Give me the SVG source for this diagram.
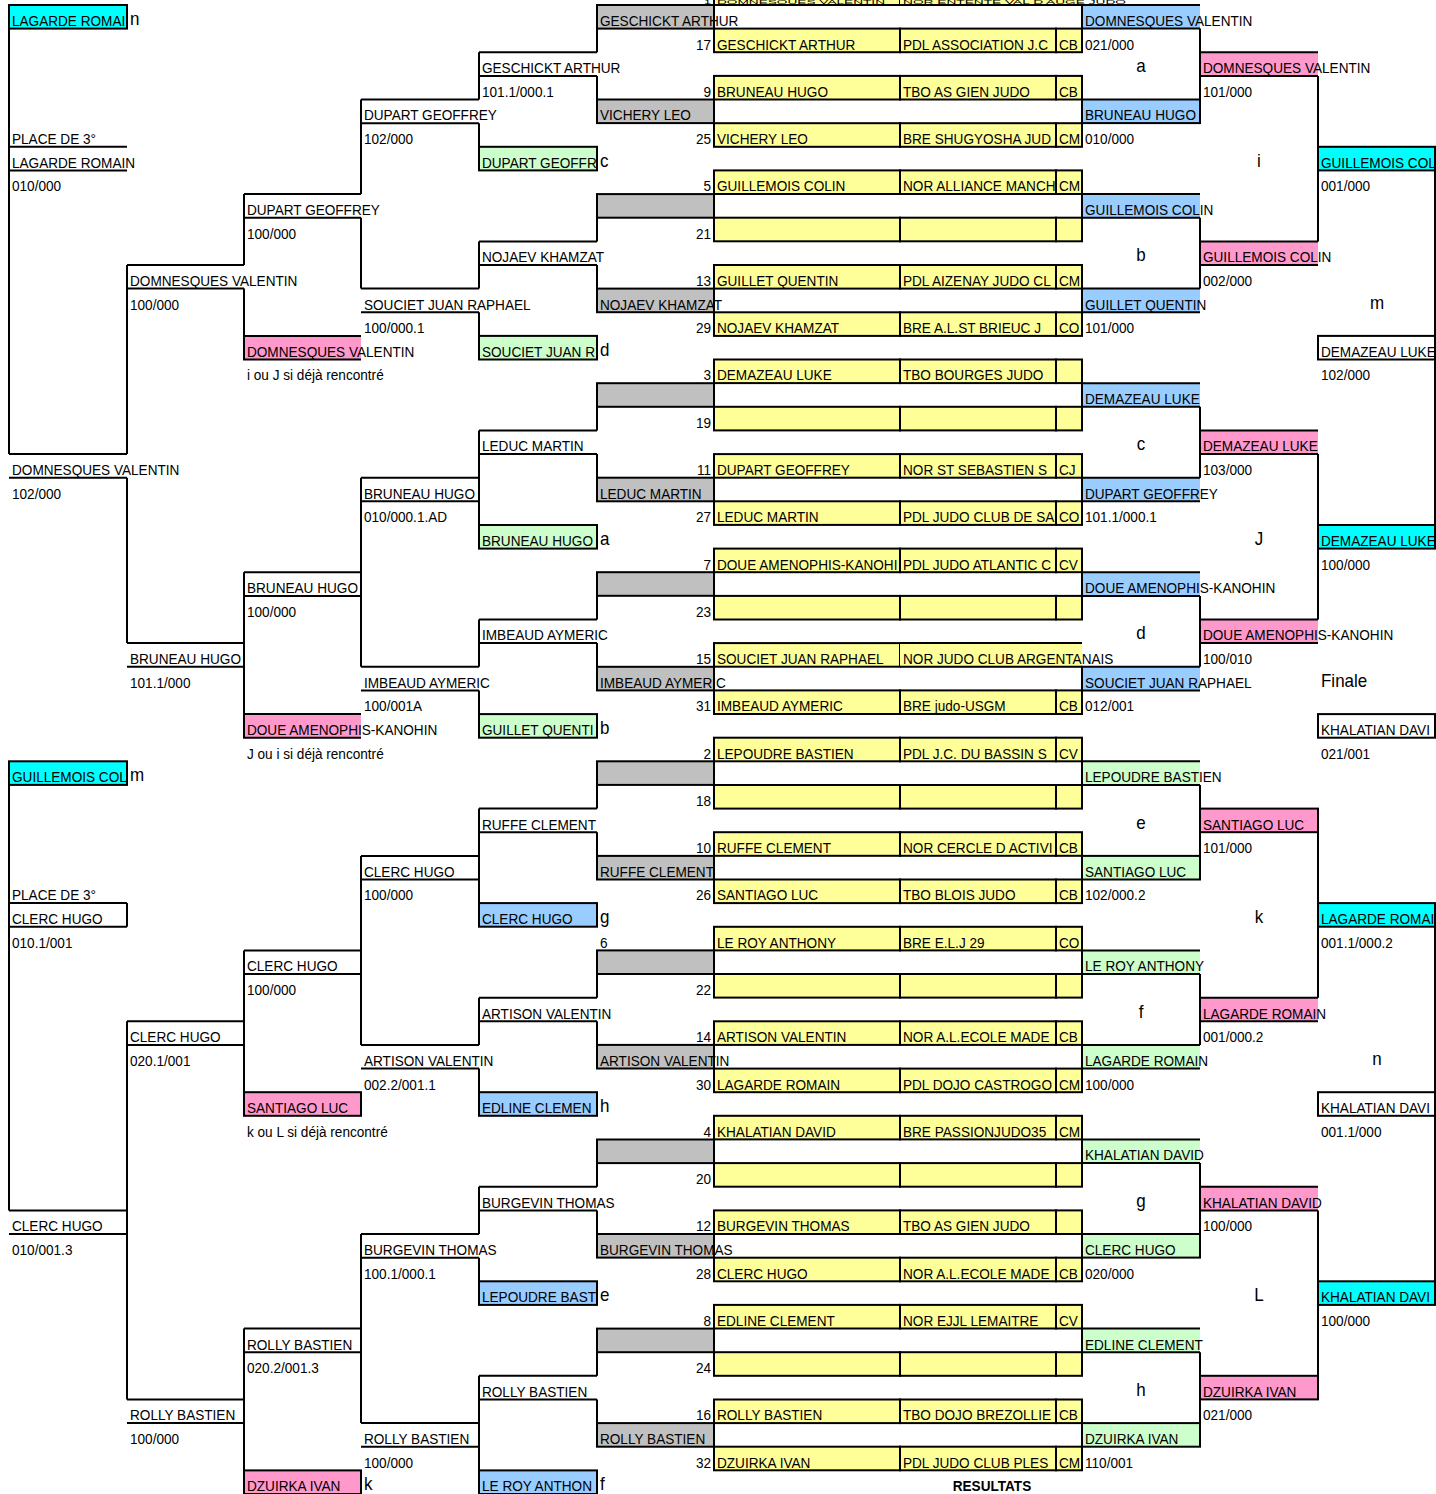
<svg xmlns="http://www.w3.org/2000/svg" xmlns:xlink="http://www.w3.org/1999/xlink" width="1436" height="1494" viewBox="0 0 1436 1494">
<style>
.t{font-family:"Liberation Sans",Arial,sans-serif;font-size:13.6px;fill:#000;transform-box:fill-box;transform-origin:0 81%;transform:scale(1,1.08)}
.L{font-family:"Liberation Sans",Arial,sans-serif;font-size:17px;fill:#000;transform-box:fill-box;transform-origin:0 81%;transform:scale(1,1.08)}
.tiny{font-family:"Liberation Sans",Arial,sans-serif;font-size:5px;fill:#000}
.bd{font-weight:bold}
.e{text-anchor:end}
.m{text-anchor:middle}
.s{stroke:#000;stroke-width:2}
.ln{fill:none;stroke:#000;stroke-width:2}
.y{fill:#ffff99}
.g{fill:#c0c0c0}
.b{fill:#99ccff}
.p{fill:#ff99cc}
.n{fill:#ccffcc}
.c{fill:#00ffff}
.w{fill:#ffffff}
</style>
<defs>
<clipPath id="cA"><rect x="10" y="0" width="116" height="1494"/></clipPath>
<clipPath id="cE"><rect x="480" y="0" width="116" height="1494"/></clipPath>
<clipPath id="cG"><rect x="715" y="0" width="184" height="1494"/></clipPath>
<clipPath id="cH"><rect x="901" y="0" width="154" height="1494"/></clipPath>
<g id="yr"><rect class="y s" x="714" y="0" width="186" height="23.6"/><rect class="y s" x="900" y="0" width="156" height="23.6"/><rect class="y s" x="1056" y="0" width="26" height="23.6"/></g>
</defs>
<rect x="0" y="0" width="1436" height="1494" fill="#ffffff"/>

<g id="slots">
<g id="slot1"><rect class="y s" x="714" y="-18.6" width="186" height="23.6"/><rect class="y" x="900" y="-18.6" width="182" height="23.6"/><path class="ln" d="M900 5H1082"/><text class="tiny e" x="711" y="4.2" textLength="7" lengthAdjust="spacingAndGlyphs">1</text><text class="tiny" x="717" y="4.2" textLength="168" lengthAdjust="spacingAndGlyphs">DOMNESQUES VALENTIN</text><text class="tiny" x="903" y="4.2" textLength="223" lengthAdjust="spacingAndGlyphs">NOR ENTENTE VAL D AUGE JUDO</text></g>
<g id="slot17"><use xlink:href="#yr" y="28.6"/><text class="t e" x="711" y="49.6">17</text><text class="t" x="717" y="49.6" clip-path="url(#cG)">GESCHICKT ARTHUR</text><text class="t" x="903" y="49.6" clip-path="url(#cH)">PDL ASSOCIATION J.C</text><text class="t" x="1059" y="49.6">CB</text></g>
<g id="slot9"><use xlink:href="#yr" y="75.9"/><text class="t e" x="711" y="96.9">9</text><text class="t" x="717" y="96.9">BRUNEAU HUGO</text><text class="t" x="903" y="96.9">TBO AS GIEN JUDO</text><text class="t" x="1059" y="96.9">CB</text></g>
<g id="slot25"><use xlink:href="#yr" y="123.2"/><text class="t e" x="711" y="144.2">25</text><text class="t" x="717" y="144.2">VICHERY LEO</text><text class="t" x="903" y="144.2" clip-path="url(#cH)">BRE SHUGYOSHA JUD</text><text class="t" x="1059" y="144.2">CM</text></g>
<g id="slot5"><use xlink:href="#yr" y="170.4"/><text class="t e" x="711" y="191.4">5</text><text class="t" x="717" y="191.4">GUILLEMOIS COLIN</text><text class="t" x="903" y="191.4" clip-path="url(#cH)">NOR ALLIANCE MANCH</text><text class="t" x="1059" y="191.4">CM</text></g>
<g id="slot21"><use xlink:href="#yr" y="217.7"/><text class="t e" x="711" y="238.7">21</text></g>
<g id="slot13"><use xlink:href="#yr" y="265"/><text class="t e" x="711" y="286">13</text><text class="t" x="717" y="286">GUILLET QUENTIN</text><text class="t" x="903" y="286" clip-path="url(#cH)">PDL AIZENAY JUDO CL</text><text class="t" x="1059" y="286">CM</text></g>
<g id="slot29"><use xlink:href="#yr" y="312.3"/><text class="t e" x="711" y="333.3">29</text><text class="t" x="717" y="333.3">NOJAEV KHAMZAT</text><text class="t" x="903" y="333.3" clip-path="url(#cH)">BRE A.L.ST BRIEUC J</text><text class="t" x="1059" y="333.3">CO</text></g>
<g id="slot3"><use xlink:href="#yr" y="359.5"/><text class="t e" x="711" y="380.5">3</text><text class="t" x="717" y="380.5">DEMAZEAU LUKE</text><text class="t" x="903" y="380.5">TBO BOURGES JUDO</text></g>
<g id="slot19"><use xlink:href="#yr" y="406.8"/><text class="t e" x="711" y="427.8">19</text></g>
<g id="slot11"><use xlink:href="#yr" y="454.1"/><text class="t e" x="711" y="475.1">11</text><text class="t" x="717" y="475.1">DUPART GEOFFREY</text><text class="t" x="903" y="475.1" clip-path="url(#cH)">NOR ST SEBASTIEN S</text><text class="t" x="1059" y="475.1">CJ</text></g>
<g id="slot27"><use xlink:href="#yr" y="501.3"/><text class="t e" x="711" y="522.3">27</text><text class="t" x="717" y="522.3">LEDUC MARTIN</text><text class="t" x="903" y="522.3" clip-path="url(#cH)">PDL JUDO CLUB DE SA</text><text class="t" x="1059" y="522.3">CO</text></g>
<g id="slot7"><use xlink:href="#yr" y="548.6"/><text class="t e" x="711" y="569.6">7</text><text class="t" x="717" y="569.6" clip-path="url(#cG)">DOUE AMENOPHIS-KANOHI</text><text class="t" x="903" y="569.6" clip-path="url(#cH)">PDL JUDO ATLANTIC C</text><text class="t" x="1059" y="569.6">CV</text></g>
<g id="slot23"><use xlink:href="#yr" y="595.9"/><text class="t e" x="711" y="616.9">23</text></g>
<g id="slot15"><rect class="y s" x="714" y="643.1" width="186" height="23.6"/><rect class="y" x="900" y="643.1" width="182" height="23.6"/><path class="ln" d="M900 643.1H1082M900 666.7H1082"/><text class="t e" x="711" y="664.1">15</text><text class="t" x="717" y="664.1">SOUCIET JUAN RAPHAEL</text><text class="t" x="903" y="664.1">NOR JUDO CLUB ARGENTANAIS</text></g>
<g id="slot31"><use xlink:href="#yr" y="690.4"/><text class="t e" x="711" y="711.4">31</text><text class="t" x="717" y="711.4">IMBEAUD AYMERIC</text><text class="t" x="903" y="711.4">BRE judo-USGM</text><text class="t" x="1059" y="711.4">CB</text></g>
<g id="slot2"><use xlink:href="#yr" y="737.7"/><text class="t e" x="711" y="758.7">2</text><text class="t" x="717" y="758.7">LEPOUDRE BASTIEN</text><text class="t" x="903" y="758.7" clip-path="url(#cH)">PDL J.C. DU BASSIN S</text><text class="t" x="1059" y="758.7">CV</text></g>
<g id="slot18"><use xlink:href="#yr" y="785"/><text class="t e" x="711" y="806">18</text></g>
<g id="slot10"><use xlink:href="#yr" y="832.2"/><text class="t e" x="711" y="853.2">10</text><text class="t" x="717" y="853.2">RUFFE CLEMENT</text><text class="t" x="903" y="853.2" clip-path="url(#cH)">NOR CERCLE D ACTIVI</text><text class="t" x="1059" y="853.2">CB</text></g>
<g id="slot26"><use xlink:href="#yr" y="879.5"/><text class="t e" x="711" y="900.5">26</text><text class="t" x="717" y="900.5">SANTIAGO LUC</text><text class="t" x="903" y="900.5">TBO BLOIS JUDO</text><text class="t" x="1059" y="900.5">CB</text></g>
<g id="slot6"><use xlink:href="#yr" y="926.8"/><text class="t" x="600" y="947.8">6</text><text class="t" x="717" y="947.8">LE ROY ANTHONY</text><text class="t" x="903" y="947.8">BRE E.L.J 29</text><text class="t" x="1059" y="947.8">CO</text></g>
<g id="slot22"><use xlink:href="#yr" y="974"/><text class="t e" x="711" y="995">22</text></g>
<g id="slot14"><use xlink:href="#yr" y="1021.3"/><text class="t e" x="711" y="1042.3">14</text><text class="t" x="717" y="1042.3">ARTISON VALENTIN</text><text class="t" x="903" y="1042.3" clip-path="url(#cH)">NOR A.L.ECOLE MADE</text><text class="t" x="1059" y="1042.3">CB</text></g>
<g id="slot30"><use xlink:href="#yr" y="1068.6"/><text class="t e" x="711" y="1089.6">30</text><text class="t" x="717" y="1089.6">LAGARDE ROMAIN</text><text class="t" x="903" y="1089.6" clip-path="url(#cH)">PDL DOJO CASTROGO</text><text class="t" x="1059" y="1089.6">CM</text></g>
<g id="slot4"><use xlink:href="#yr" y="1115.8"/><text class="t e" x="711" y="1136.8">4</text><text class="t" x="717" y="1136.8">KHALATIAN DAVID</text><text class="t" x="903" y="1136.8" clip-path="url(#cH)">BRE PASSIONJUDO35</text><text class="t" x="1059" y="1136.8">CM</text></g>
<g id="slot20"><use xlink:href="#yr" y="1163.1"/><text class="t e" x="711" y="1184.1">20</text></g>
<g id="slot12"><use xlink:href="#yr" y="1210.4"/><text class="t e" x="711" y="1231.4">12</text><text class="t" x="717" y="1231.4">BURGEVIN THOMAS</text><text class="t" x="903" y="1231.4">TBO AS GIEN JUDO</text></g>
<g id="slot28"><use xlink:href="#yr" y="1257.7"/><text class="t e" x="711" y="1278.7">28</text><text class="t" x="717" y="1278.7">CLERC HUGO</text><text class="t" x="903" y="1278.7" clip-path="url(#cH)">NOR A.L.ECOLE MADE</text><text class="t" x="1059" y="1278.7">CB</text></g>
<g id="slot8"><use xlink:href="#yr" y="1304.9"/><text class="t e" x="711" y="1325.9">8</text><text class="t" x="717" y="1325.9">EDLINE CLEMENT</text><text class="t" x="903" y="1325.9">NOR EJJL LEMAITRE</text><text class="t" x="1059" y="1325.9">CV</text></g>
<g id="slot24"><use xlink:href="#yr" y="1352.2"/><text class="t e" x="711" y="1373.2">24</text></g>
<g id="slot16"><use xlink:href="#yr" y="1399.5"/><text class="t e" x="711" y="1420.5">16</text><text class="t" x="717" y="1420.5">ROLLY BASTIEN</text><text class="t" x="903" y="1420.5" clip-path="url(#cH)">TBO DOJO BREZOLLIE</text><text class="t" x="1059" y="1420.5">CB</text></g>
<g id="slot32"><use xlink:href="#yr" y="1446.7"/><text class="t e" x="711" y="1467.7">32</text><text class="t" x="717" y="1467.7">DZUIRKA IVAN</text><text class="t" x="903" y="1467.7" clip-path="url(#cH)">PDL JUDO CLUB PLES</text><text class="t" x="1059" y="1467.7">CM</text></g>
</g>

<g id="round1-winners">
<g id="F0"><rect class="g s" x="597" y="5" width="117" height="23.6"/><text class="t" x="600" y="26">GESCHICKT ARTHUR</text></g>
<g id="F4"><rect class="g s" x="597" y="99.5" width="117" height="23.6"/><text class="t" x="600" y="120.5">VICHERY LEO</text></g>
<g id="F8"><rect class="g s" x="597" y="194.1" width="117" height="23.6"/></g>
<g id="F12"><rect class="g s" x="597" y="288.6" width="117" height="23.6"/><text class="t" x="600" y="309.6">NOJAEV KHAMZAT</text></g>
<g id="F16"><rect class="g s" x="597" y="383.2" width="117" height="23.6"/></g>
<g id="F20"><rect class="g s" x="597" y="477.7" width="117" height="23.6"/><text class="t" x="600" y="498.7">LEDUC MARTIN</text></g>
<g id="F24"><rect class="g s" x="597" y="572.2" width="117" height="23.6"/></g>
<g id="F28"><rect class="g s" x="597" y="666.8" width="117" height="23.6"/><text class="t" x="600" y="687.8">IMBEAUD AYMERIC</text></g>
<g id="F32"><rect class="g s" x="597" y="761.3" width="117" height="23.6"/></g>
<g id="F36"><rect class="g s" x="597" y="855.9" width="117" height="23.6"/><text class="t" x="600" y="876.9">RUFFE CLEMENT</text></g>
<g id="F40"><rect class="g s" x="597" y="950.4" width="117" height="23.6"/></g>
<g id="F44"><rect class="g s" x="597" y="1044.9" width="117" height="23.6"/><text class="t" x="600" y="1065.9">ARTISON VALENTIN</text></g>
<g id="F48"><rect class="g s" x="597" y="1139.5" width="117" height="23.6"/></g>
<g id="F52"><rect class="g s" x="597" y="1234" width="117" height="23.6"/><text class="t" x="600" y="1255">BURGEVIN THOMAS</text></g>
<g id="F56"><rect class="g s" x="597" y="1328.6" width="117" height="23.6"/></g>
<g id="F60"><rect class="g s" x="597" y="1423.1" width="117" height="23.6"/><text class="t" x="600" y="1444.1">ROLLY BASTIEN</text></g>
</g>

<g id="repechage-left">
<g id="E6"><rect class="n s" x="479" y="146.8" width="118" height="23.6"/><text class="t" x="482" y="167.8" clip-path="url(#cE)">DUPART GEOFFR</text><text class="L" x="600" y="166.8">c</text></g>
<g id="E14"><rect class="n s" x="479" y="335.9" width="118" height="23.6"/><text class="t" x="482" y="356.9" clip-path="url(#cE)">SOUCIET JUAN R</text><text class="L" x="600" y="355.9">d</text></g>
<g id="E22"><rect class="n s" x="479" y="525" width="118" height="23.6"/><text class="t" x="482" y="546" clip-path="url(#cE)">BRUNEAU HUGO</text><text class="L" x="600" y="545">a</text></g>
<g id="E30"><rect class="n s" x="479" y="714.1" width="118" height="23.6"/><text class="t" x="482" y="735.1" clip-path="url(#cE)">GUILLET QUENTI</text><text class="L" x="600" y="734.1">b</text></g>
<g id="E38"><rect class="b s" x="479" y="903.1" width="118" height="23.6"/><text class="t" x="482" y="924.1" clip-path="url(#cE)">CLERC HUGO</text><text class="L" x="600" y="923.1">g</text></g>
<g id="E46"><rect class="b s" x="479" y="1092.2" width="118" height="23.6"/><text class="t" x="482" y="1113.2" clip-path="url(#cE)">EDLINE CLEMEN</text><text class="L" x="600" y="1112.2">h</text></g>
<g id="E54"><rect class="b s" x="479" y="1281.3" width="118" height="23.6"/><text class="t" x="482" y="1302.3" clip-path="url(#cE)">LEPOUDRE BAST</text><text class="L" x="600" y="1301.3">e</text></g>
<g id="E62"><rect class="b s" x="479" y="1470.4" width="118" height="23.6"/><text class="t" x="482" y="1491.4" clip-path="url(#cE)">LE ROY ANTHON</text><text class="L" x="600" y="1490.4">f</text></g>
<g id="C14"><rect class="p" x="244" y="335.9" width="117" height="23.6"/><path class="ln" d="M361 335.9H244V359.5H361"/><text class="t" x="247" y="356.9">DOMNESQUES VALENTIN</text><text class="t" x="247" y="380.5">i ou J si déjà rencontré</text></g>
<g id="C30"><rect class="p" x="244" y="714.1" width="117" height="23.6"/><path class="ln" d="M361 714.1H244V737.7H361"/><text class="t" x="247" y="735.1">DOUE AMENOPHIS-KANOHIN</text><text class="t" x="247" y="758.7">J ou i si déjà rencontré</text></g>
<g id="C46"><rect class="p s" x="244" y="1092.2" width="117" height="23.6"/><text class="t" x="247" y="1113.2">SANTIAGO LUC</text><text class="t" x="247" y="1136.8">k ou L si déjà rencontré</text></g>
<g id="C62"><rect class="p s" x="244" y="1470.4" width="117" height="23.6"/><text class="t" x="247" y="1491.4">DZUIRKA IVAN</text><text class="L" x="364" y="1490.4">k</text></g>
<g id="A0"><rect class="c s" x="9" y="5" width="118" height="23.6"/><text class="t" x="12" y="26" clip-path="url(#cA)">LAGARDE ROMAI</text><text class="L" x="130" y="25">n</text></g>
<g id="A32"><rect class="c s" x="9" y="761.3" width="118" height="23.6"/><text class="t" x="12" y="782.3" clip-path="url(#cA)">GUILLEMOIS COL</text><text class="L" x="130" y="781.3">m</text></g>
</g>

<g id="winners-left">
<g id="E2"><text class="t" x="482" y="73.3">GESCHICKT ARTHUR</text><text class="t" x="482" y="96.9">101.1/000.1</text></g>
<g id="E10"><text class="t" x="482" y="262.4">NOJAEV KHAMZAT</text></g>
<g id="E18"><text class="t" x="482" y="451.4">LEDUC MARTIN</text></g>
<g id="E26"><text class="t" x="482" y="640.5">IMBEAUD AYMERIC</text></g>
<g id="E34"><text class="t" x="482" y="829.6">RUFFE CLEMENT</text></g>
<g id="E42"><text class="t" x="482" y="1018.7">ARTISON VALENTIN</text></g>
<g id="E50"><text class="t" x="482" y="1207.8">BURGEVIN THOMAS</text></g>
<g id="E58"><text class="t" x="482" y="1396.8">ROLLY BASTIEN</text></g>
<g id="D4"><text class="t" x="364" y="120.5">DUPART GEOFFREY</text><text class="t" x="364" y="144.2">102/000</text></g>
<g id="D12"><text class="t" x="364" y="309.6">SOUCIET JUAN RAPHAEL</text><text class="t" x="364" y="333.3">100/000.1</text></g>
<g id="D20"><text class="t" x="364" y="498.7">BRUNEAU HUGO</text><text class="t" x="364" y="522.3">010/000.1.AD</text></g>
<g id="D28"><text class="t" x="364" y="687.8">IMBEAUD AYMERIC</text><text class="t" x="364" y="711.4">100/001A</text></g>
<g id="D36"><text class="t" x="364" y="876.9">CLERC HUGO</text><text class="t" x="364" y="900.5">100/000</text></g>
<g id="D44"><text class="t" x="364" y="1065.9">ARTISON VALENTIN</text><text class="t" x="364" y="1089.6">002.2/001.1</text></g>
<g id="D52"><text class="t" x="364" y="1255">BURGEVIN THOMAS</text><text class="t" x="364" y="1278.7">100.1/000.1</text></g>
<g id="D60"><text class="t" x="364" y="1444.1">ROLLY BASTIEN</text><text class="t" x="364" y="1467.7">100/000</text></g>
<g id="C8"><text class="t" x="247" y="215.1">DUPART GEOFFREY</text><text class="t" x="247" y="238.7">100/000</text></g>
<g id="C24"><text class="t" x="247" y="593.2">BRUNEAU HUGO</text><text class="t" x="247" y="616.9">100/000</text></g>
<g id="C40"><text class="t" x="247" y="971.4">CLERC HUGO</text><text class="t" x="247" y="995">100/000</text></g>
<g id="C56"><text class="t" x="247" y="1349.6">ROLLY BASTIEN</text><text class="t" x="247" y="1373.2">020.2/001.3</text></g>
<g id="B11"><text class="t" x="130" y="286">DOMNESQUES VALENTIN</text><text class="t" x="130" y="309.6">100/000</text></g>
<g id="B27"><text class="t" x="130" y="664.1">BRUNEAU HUGO</text><text class="t" x="130" y="687.8">101.1/000</text></g>
<g id="B43"><text class="t" x="130" y="1042.3">CLERC HUGO</text><text class="t" x="130" y="1065.9">020.1/001</text></g>
<g id="B59"><text class="t" x="130" y="1420.5">ROLLY BASTIEN</text><text class="t" x="130" y="1444.1">100/000</text></g>
<g id="A5"><text class="t" x="12" y="144.2">PLACE DE 3°</text><text class="t" x="12" y="167.8">LAGARDE ROMAIN</text><text class="t" x="12" y="191.4">010/000</text></g>
<g id="A19"><text class="t" x="12" y="475.1">DOMNESQUES VALENTIN</text><text class="t" x="12" y="498.7">102/000</text></g>
<g id="A37"><text class="t" x="12" y="900.5">PLACE DE 3°</text><text class="t" x="12" y="924.1">CLERC HUGO</text><text class="t" x="12" y="947.8">010.1/001</text></g>
<g id="A51"><text class="t" x="12" y="1231.4">CLERC HUGO</text><text class="t" x="12" y="1255">010/001.3</text></g>
</g>

<g id="repechage-right">
<g id="J0"><rect class="b" x="1082" y="5" width="118" height="23.6"/><path class="ln" d="M1200 5H1082V28.6H1200"/><text class="t" x="1085" y="26">DOMNESQUES VALENTIN</text><text class="t" x="1085" y="49.6">021/000</text></g>
<g id="J4"><rect class="b s" x="1082" y="99.5" width="118" height="23.6"/><text class="t" x="1085" y="120.5">BRUNEAU HUGO</text><text class="t" x="1085" y="144.2">010/000</text></g>
<g id="J8"><rect class="b" x="1082" y="194.1" width="118" height="23.6"/><path class="ln" d="M1200 194.1H1082V217.7H1200"/><text class="t" x="1085" y="215.1">GUILLEMOIS COLIN</text></g>
<g id="J12"><rect class="b" x="1082" y="288.6" width="118" height="23.6"/><path class="ln" d="M1200 288.6H1082V312.3H1200"/><text class="t" x="1085" y="309.6">GUILLET QUENTIN</text><text class="t" x="1085" y="333.3">101/000</text></g>
<g id="J16"><rect class="b" x="1082" y="383.2" width="118" height="23.6"/><path class="ln" d="M1200 383.2H1082V406.8H1200"/><text class="t" x="1085" y="404.2">DEMAZEAU LUKE</text></g>
<g id="J20"><rect class="b" x="1082" y="477.7" width="118" height="23.6"/><path class="ln" d="M1200 477.7H1082V501.3H1200"/><text class="t" x="1085" y="498.7">DUPART GEOFFREY</text><text class="t" x="1085" y="522.3">101.1/000.1</text></g>
<g id="J24"><rect class="b" x="1082" y="572.2" width="118" height="23.6"/><path class="ln" d="M1200 572.2H1082V595.9H1200"/><text class="t" x="1085" y="593.2">DOUE AMENOPHIS-KANOHIN</text></g>
<g id="J28"><rect class="b" x="1082" y="666.8" width="118" height="23.6"/><path class="ln" d="M1200 666.8H1082V690.4H1200"/><text class="t" x="1085" y="687.8">SOUCIET JUAN RAPHAEL</text><text class="t" x="1085" y="711.4">012/001</text></g>
<g id="J32"><rect class="n" x="1082" y="761.3" width="118" height="23.6"/><path class="ln" d="M1200 761.3H1082V785H1200"/><text class="t" x="1085" y="782.3">LEPOUDRE BASTIEN</text></g>
<g id="J36"><rect class="n s" x="1082" y="855.9" width="118" height="23.6"/><text class="t" x="1085" y="876.9">SANTIAGO LUC</text><text class="t" x="1085" y="900.5">102/000.2</text></g>
<g id="J40"><rect class="n" x="1082" y="950.4" width="118" height="23.6"/><path class="ln" d="M1200 950.4H1082V974H1200"/><text class="t" x="1085" y="971.4">LE ROY ANTHONY</text></g>
<g id="J44"><rect class="n" x="1082" y="1044.9" width="118" height="23.6"/><path class="ln" d="M1200 1044.9H1082V1068.6H1200"/><text class="t" x="1085" y="1065.9">LAGARDE ROMAIN</text><text class="t" x="1085" y="1089.6">100/000</text></g>
<g id="J48"><rect class="n" x="1082" y="1139.5" width="118" height="23.6"/><path class="ln" d="M1200 1139.5H1082V1163.1H1200"/><text class="t" x="1085" y="1160.5">KHALATIAN DAVID</text></g>
<g id="J52"><rect class="n s" x="1082" y="1234" width="118" height="23.6"/><text class="t" x="1085" y="1255">CLERC HUGO</text><text class="t" x="1085" y="1278.7">020/000</text></g>
<g id="J56"><rect class="n" x="1082" y="1328.6" width="118" height="23.6"/><path class="ln" d="M1200 1328.6H1082V1352.2H1200"/><text class="t" x="1085" y="1349.6">EDLINE CLEMENT</text></g>
<g id="J60"><rect class="n s" x="1082" y="1423.1" width="118" height="23.6"/><text class="t" x="1085" y="1444.1">DZUIRKA IVAN</text><text class="t" x="1085" y="1467.7">110/001</text></g>
<g id="K2"><rect class="p" x="1200" y="52.3" width="118" height="23.6"/><path class="ln" d="M1318 52.3H1200V75.9H1318"/><text class="t" x="1203" y="73.3">DOMNESQUES VALENTIN</text><text class="t" x="1203" y="96.9">101/000</text></g>
<g id="K10"><rect class="p" x="1200" y="241.4" width="118" height="23.6"/><path class="ln" d="M1318 241.4H1200V265H1318"/><text class="t" x="1203" y="262.4">GUILLEMOIS COLIN</text><text class="t" x="1203" y="286">002/000</text></g>
<g id="K18"><rect class="p" x="1200" y="430.4" width="118" height="23.6"/><path class="ln" d="M1318 430.4H1200V454.1H1318"/><text class="t" x="1203" y="451.4">DEMAZEAU LUKE</text><text class="t" x="1203" y="475.1">103/000</text></g>
<g id="K26"><rect class="p" x="1200" y="619.5" width="118" height="23.6"/><path class="ln" d="M1318 619.5H1200V643.1H1318"/><text class="t" x="1203" y="640.5">DOUE AMENOPHIS-KANOHIN</text><text class="t" x="1203" y="664.1">100/010</text></g>
<g id="K34"><rect class="p s" x="1200" y="808.6" width="118" height="23.6"/><text class="t" x="1203" y="829.6">SANTIAGO LUC</text><text class="t" x="1203" y="853.2">101/000</text></g>
<g id="K42"><rect class="p" x="1200" y="997.7" width="118" height="23.6"/><path class="ln" d="M1318 997.7H1200V1021.3H1318"/><text class="t" x="1203" y="1018.7">LAGARDE ROMAIN</text><text class="t" x="1203" y="1042.3">001/000.2</text></g>
<g id="K50"><rect class="p" x="1200" y="1186.8" width="118" height="23.6"/><path class="ln" d="M1318 1186.8H1200V1210.4H1318"/><text class="t" x="1203" y="1207.8">KHALATIAN DAVID</text><text class="t" x="1203" y="1231.4">100/000</text></g>
<g id="K58"><rect class="p s" x="1200" y="1375.8" width="118" height="23.6"/><text class="t" x="1203" y="1396.8">DZUIRKA IVAN</text><text class="t" x="1203" y="1420.5">021/000</text></g>
<g id="L6"><rect class="c s" x="1318" y="146.8" width="117" height="23.6"/><text class="t" x="1321" y="167.8">GUILLEMOIS COL</text><text class="t" x="1321" y="191.4">001/000</text></g>
<g id="L14"><rect class="w s" x="1318" y="335.9" width="117" height="23.6"/><text class="t" x="1321" y="356.9">DEMAZEAU LUKE</text><text class="t" x="1321" y="380.5">102/000</text></g>
<g id="L22"><rect class="c s" x="1318" y="525" width="117" height="23.6"/><text class="t" x="1321" y="546">DEMAZEAU LUKE</text><text class="t" x="1321" y="569.6">100/000</text></g>
<g id="L30"><rect class="w s" x="1318" y="714.1" width="117" height="23.6"/><text class="t" x="1321" y="735.1">KHALATIAN DAVI</text><text class="t" x="1321" y="758.7">021/001</text></g>
<g id="L38"><rect class="c s" x="1318" y="903.1" width="117" height="23.6"/><text class="t" x="1321" y="924.1">LAGARDE ROMAI</text><text class="t" x="1321" y="947.8">001.1/000.2</text></g>
<g id="L46"><rect class="w s" x="1318" y="1092.2" width="117" height="23.6"/><text class="t" x="1321" y="1113.2">KHALATIAN DAVI</text><text class="t" x="1321" y="1136.8">001.1/000</text></g>
<g id="L54"><rect class="c s" x="1318" y="1281.3" width="117" height="23.6"/><text class="t" x="1321" y="1302.3">KHALATIAN DAVI</text><text class="t" x="1321" y="1325.9">100/000</text></g>
</g>

<g id="match-labels">
<text class="L m" x="1141" y="72.3">a</text>
<text class="L m" x="1141" y="261.4">b</text>
<text class="L m" x="1141" y="450.4">c</text>
<text class="L m" x="1141" y="639.5">d</text>
<text class="L m" x="1141" y="828.6">e</text>
<text class="L m" x="1141" y="1017.7">f</text>
<text class="L m" x="1141" y="1206.8">g</text>
<text class="L m" x="1141" y="1395.8">h</text>
<text class="L m" x="1259" y="166.8">i</text>
<text class="L m" x="1259" y="545">J</text>
<text class="L m" x="1259" y="923.1">k</text>
<text class="L m" x="1259" y="1301.3">L</text>
<text class="L m" x="1377" y="308.6">m</text>
<text class="L m" x="1377" y="1064.9">n</text>
<text class="L" x="1321" y="686.8">Finale</text>
<text class="t bd m" x="992" y="1491.4">RESULTATS</text>
</g>

<g id="connectors">
<path class="ln" d="M597 28.6V52.3M597 75.9V99.5M597 217.7V241.4M597 265V288.6M597 406.8V430.4M597 454.1V477.7M597 595.9V619.5M597 643.1V666.8M597 785V808.6M597 832.2V855.9M597 974V997.7M597 1021.3V1044.9M597 1163.1V1186.8M597 1210.4V1234M597 1352.2V1375.8M597 1399.5V1423.1"/>
<path class="ln" d="M479 52.3H597M479 75.9H597M479 241.4H597M479 265H597M479 430.4H597M479 454.1H597M479 619.5H597M479 643.1H597M479 808.6H597M479 832.2H597M479 997.7H597M479 1021.3H597M479 1186.8H597M479 1210.4H597M479 1375.8H597M479 1399.5H597"/>
<path class="ln" d="M479 52.3V99.5M479 123.2V146.8M479 241.4V288.6M479 312.3V335.9M479 430.4V525M479 619.5V666.8M479 690.4V714.1M479 808.6V903.1M479 997.7V1044.9M479 1068.6V1092.2M479 1186.8V1234M479 1257.7V1281.3M479 1375.8V1470.4"/>
<path class="ln" d="M361 99.5H479M361 123.2H479M361 288.6H479M361 312.3H479M361 477.7H479M361 501.3H479M361 666.8H479M361 690.4H479M361 855.9H479M361 879.5H479M361 1044.9H479M361 1068.6H479M361 1234H479M361 1257.7H479M361 1423.1H479M361 1446.7H479"/>
<path class="ln" d="M361 99.5V194.1M361 217.7V288.6M361 477.7V666.8M361 855.9V1044.9M361 1234V1423.1"/>
<path class="ln" d="M244 194.1H361M244 217.7H361M244 572.2H361M244 595.9H361M244 950.4H361M244 974H361M244 1328.6H361M244 1352.2H361"/>
<path class="ln" d="M244 194.1V265M244 288.6V335.9M244 572.2V714.1M244 950.4V1092.2M244 1328.6V1470.4"/>
<path class="ln" d="M127 265H244M127 288.6H244M127 643.1H244M127 666.8H244M127 1021.3H244M127 1044.9H244M127 1399.5H244M127 1423.1H244"/>
<path class="ln" d="M127 265V454.1M127 477.7V643.1M127 1021.3V1399.5"/>
<path class="ln" d="M9 454.1H127M9 477.7H127M9 1210.4H127M9 1234H127M9 28.6V454.1M9 785V1210.4M9 146.8H127M9 170.4H127M9 903.1H127M9 926.8H127M127 903.1V926.8"/>
<path class="ln" d="M1200 28.6V123.2M1200 217.7V288.6M1200 406.8V477.7M1200 595.9V666.8M1200 785V879.5M1200 974V1044.9M1200 1163.1V1257.7M1200 1352.2V1446.7"/>
<path class="ln" d="M1318 75.9V241.4M1318 454.1V619.5M1318 832.2V997.7M1318 1210.4V1399.5"/>
<path class="ln" d="M1435 170.4V525M1435 926.8V1281.3"/>
</g>
</svg>
